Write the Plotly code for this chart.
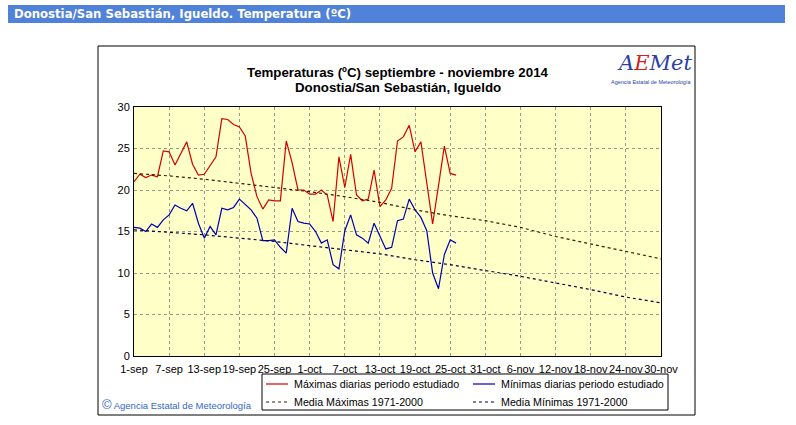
import pandas as pd
import plotly.graph_objects as go

# Daily observed temperatures (ºC), 1-sep-2014 .. 26-oct-2014
TMAX_DAILY = [
    21.0, 21.9, 21.5, 21.8, 21.6, 24.7, 24.6, 23.0, 24.4, 25.8,
    23.1, 21.8, 21.9, 23.0, 24.0, 28.6, 28.5, 27.9, 27.6, 26.5,
    22.0, 19.2, 17.7, 18.8, 18.7, 18.7, 25.9, 23.3, 20.0, 20.0,
    19.5, 19.5, 20.0, 19.4, 16.2, 24.0, 20.3, 24.3, 19.4, 18.7,
    18.9, 22.4, 18.0, 18.8, 20.2, 25.9, 26.4, 27.8, 24.6, 25.8,
    21.0, 15.9, 20.5, 25.3, 22.0, 21.8,
]
TMIN_DAILY = [
    15.5, 15.4, 15.0, 15.9, 15.5, 16.4, 17.0, 18.2, 17.8, 17.5,
    18.4, 16.0, 14.2, 15.6, 14.6, 17.8, 17.6, 17.9, 18.9, 18.2,
    17.6, 16.6, 13.9, 13.9, 14.0, 13.1, 12.4, 17.8, 16.2, 16.0,
    15.9, 15.0, 13.6, 14.0, 11.0, 10.5, 15.1, 17.0, 14.6, 14.2,
    13.6, 16.0, 14.4, 12.9, 13.1, 16.3, 16.5, 18.9, 17.6, 16.7,
    15.1, 10.0, 8.1, 12.2, 14.0, 13.6,
]

# 1971-2000 normals, read at every tick date
TICK_LABELS = [
    "1-sep", "7-sep", "13-sep", "19-sep", "25-sep", "1-oct", "7-oct", "13-oct",
    "19-oct", "25-oct", "31-oct", "6-nov", "12-nov", "18-nov", "24-nov", "30-nov",
]
TMAX_NORMAL = [22.0, 21.7, 21.3, 20.8, 20.3, 19.8, 19.2, 18.5,
               17.6, 16.9, 16.3, 15.5, 14.4, 13.5, 12.6, 11.7]
TMIN_NORMAL = [15.2, 14.9, 14.6, 14.2, 13.8, 13.3, 12.8, 12.3,
               11.6, 11.0, 10.3, 9.6, 8.8, 8.0, 7.1, 6.4]

Y_TICKS = [0, 5, 10, 15, 20, 25, 30]

SERIES_NAMES = [
    "Máximas diarias periodo estudiado",
    "Mínimas diarias periodo estudiado",
    "Media Máximas 1971-2000",
    "Media Mínimas 1971-2000",
]
SERIES_COLORS = ["#d40000", "#0000b4", "#3a1a00", "#00003a"]
SERIES_DASH = ["solid", "solid", "3px,3px", "3px,3px"]

W, H = 796, 425
FONT = "Liberation Sans, Arial, sans-serif"

daily_dates = pd.date_range("2014-09-01", periods=len(TMAX_DAILY))
tick_dates = pd.date_range("2014-09-01", "2014-11-30", freq="6D")


def px_x(px):
    return px / W


def px_y(py):
    return 1 - py / H


fig = go.Figure()

series = [
    (daily_dates, TMAX_DAILY),
    (daily_dates, TMIN_DAILY),
    (tick_dates, TMAX_NORMAL),
    (tick_dates, TMIN_NORMAL),
]
for (xs, ys), name, color, dash in zip(series, SERIES_NAMES, SERIES_COLORS, SERIES_DASH):
    fig.add_trace(go.Scatter(
        x=xs, y=ys, mode="lines", name=name,
        line=dict(color=color, width=1.2, dash=dash),
    ))

axis_style = dict(
    showgrid=True,
    gridcolor="#9a9a8a",
    griddash="dot",
    gridwidth=1,
    showline=True,
    linecolor="black",
    linewidth=1,
    mirror=True,
    ticks="",
    zeroline=False,
    tickfont=dict(size=11, family=FONT),
)

# Hand-built legend (box, sample lines and labels)
shapes = [
    # page header bar
    dict(type="rect", xref="paper", yref="paper",
         x0=px_x(8), x1=px_x(785), y0=px_y(23), y1=px_y(5),
         fillcolor="#4f82d8", line=dict(width=0), layer="below"),
    # chart frame
    dict(type="rect", xref="paper", yref="paper",
         x0=px_x(98), x1=px_x(695), y0=px_y(415), y1=px_y(46),
         line=dict(color="black", width=1), layer="below"),
    # legend box
    dict(type="rect", xref="paper", yref="paper",
         x0=px_x(262), x1=px_x(668), y0=px_y(410), y1=px_y(374),
         fillcolor="white", line=dict(color="black", width=1)),
]
annotations = []
legend_cols = [266, 473]
legend_rows = [384, 402]
for i, (name, color, dash) in enumerate(zip(SERIES_NAMES, SERIES_COLORS, SERIES_DASH)):
    lx = legend_cols[i % 2]
    ly = legend_rows[i // 2]
    shapes.append(dict(
        type="line", xref="paper", yref="paper",
        x0=px_x(lx), x1=px_x(lx + 22), y0=px_y(ly), y1=px_y(ly),
        line=dict(color=color, width=1.2, dash="dot" if dash != "solid" else "solid"),
    ))
    annotations.append(dict(
        text=name, xref="paper", yref="paper", x=px_x(lx + 26), y=px_y(ly),
        xanchor="left", yanchor="middle", showarrow=False,
        font=dict(family=FONT, size=10.7, color="black"),
    ))

annotations += [
    dict(text="<b>Donostia/San Sebastián, Igueldo. Temperatura (ºC)</b>",
         xref="paper", yref="paper", x=px_x(12), y=px_y(14),
         xanchor="left", yanchor="middle", showarrow=False,
         font=dict(family="DejaVu Sans, Verdana, sans-serif", size=11.7, color="white")),
    dict(text="<b>Temperaturas (ºC) septiembre - noviembre 2014</b>",
         xref="paper", yref="paper", x=px_x(398), y=px_y(72),
         xanchor="center", yanchor="middle", showarrow=False,
         font=dict(family=FONT, size=13.3, color="black")),
    dict(text="<b>Donostia/San Sebastián, Igueldo</b>",
         xref="paper", yref="paper", x=px_x(398), y=px_y(87),
         xanchor="center", yanchor="middle", showarrow=False,
         font=dict(family=FONT, size=13.3, color="black")),
    dict(text="<span style='font-size:13px'>©</span> Agencia Estatal de Meteorología",
         xref="paper", yref="paper", x=px_x(100), y=px_y(404),
         xanchor="left", yanchor="middle", showarrow=False,
         font=dict(family=FONT, size=9.5, color="#3366cc")),
    # AEMET logo, approximated with text
    dict(text="<i><span style='color:#2a3fa8'>A</span>"
              "<span style='color:#d02020'>E</span>"
              "<span style='color:#2a3fa8'>Met</span></i>",
         xref="paper", yref="paper", x=px_x(654), y=px_y(63),
         xanchor="center", yanchor="middle", showarrow=False,
         font=dict(family="DejaVu Serif, serif", size=21)),
    dict(text="Agencia Estatal de Meteorología",
         xref="paper", yref="paper", x=px_x(651), y=px_y(82),
         xanchor="center", yanchor="middle", showarrow=False,
         font=dict(family=FONT, size=5.5, color="#2a3fa8")),
]

fig.update_layout(
    width=W,
    height=H,
    margin=dict(l=0, r=0, t=0, b=0, autoexpand=False),
    paper_bgcolor="white",
    plot_bgcolor="#ffffc8",
    font=dict(family=FONT, size=11, color="black"),
    showlegend=False,
    xaxis=dict(
        domain=[px_x(134), px_x(661)],
        range=[tick_dates[0], tick_dates[-1]],
        tickvals=tick_dates,
        ticktext=TICK_LABELS,
        tickangle=0,
        ticklabelstandoff=3,
        **axis_style,
    ),
    yaxis=dict(
        domain=[px_y(356), px_y(107)],
        range=[0, 30],
        tickvals=Y_TICKS,
        ticklabelstandoff=1,
        **axis_style,
    ),
    shapes=shapes,
    annotations=annotations,
)

fig.write_html(
    "out.html",
    config={"displayModeBar": False},
    post_script="document.body.style.margin='0';document.body.style.overflow='hidden';",
)
